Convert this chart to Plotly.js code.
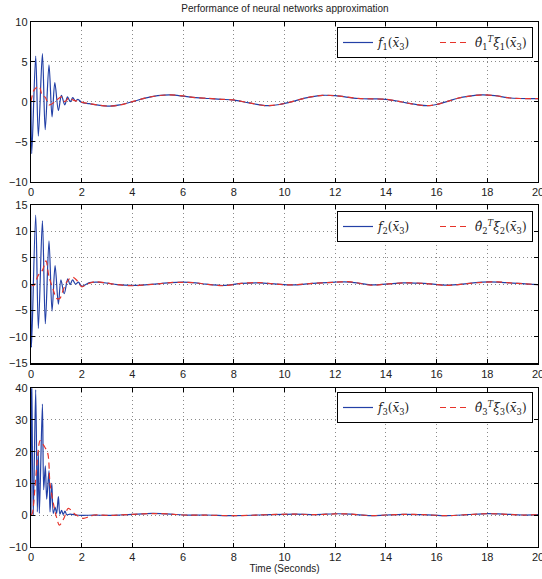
<!DOCTYPE html>
<html>
<head>
<meta charset="utf-8">
<script src="https://cdn.plot.ly/plotly-3.0.1.min.js"></script>
<style>
  html, body { margin: 0; padding: 0; background: #fff; }
  #chart { width: 542px; height: 579px; }
</style>
</head>
<body>
<div id="chart"></div>
<script>
// Panel 1: f1 and its neural-network estimate
const t1Blue = [0, 0.03, 0.185, 0.29, 0.45, 0.56, 0.71, 0.83, 0.94, 1.08, 1.2, 1.33, 1.44, 1.55, 1.65, 1.75, 1.85, 2.0, 2.3, 2.6, 3.1, 3.5, 4.0, 4.5, 5.0, 5.5, 6.0, 6.5, 7.0, 7.5, 8.0, 8.6, 9.3, 9.8, 10.3, 10.8, 11.5, 12.0, 12.9, 13.5, 14.0, 14.5, 14.8, 15.6, 16.0, 16.5, 16.8, 17.3, 17.8, 18.3, 18.8, 19.3, 20];
const f1Blue = [0, -6.5, 5.7, -4.3, 6.0, -3.5, 4.6, -1.9, 2.4, -1.1, 0.8, -0.4, 0.6, 0.0, 0.5, 0.1, 0.3, -0.1, -0.25, -0.4, -0.55, -0.4, 0.0, 0.45, 0.75, 0.85, 0.7, 0.5, 0.4, 0.3, 0.2, -0.15, -0.5, -0.35, 0.0, 0.45, 0.8, 0.75, 0.4, 0.35, 0.3, 0.05, -0.15, -0.5, -0.35, 0.1, 0.4, 0.7, 0.85, 0.75, 0.5, 0.4, 0.38];
const t1Red = [0, 0.13, 0.32, 0.45, 0.55, 0.72, 0.94, 1.2, 1.33, 1.5, 1.67, 2.0, 2.3, 2.6, 3.1, 3.5, 4.0, 4.5, 5.0, 5.5, 6.0, 6.5, 7.0, 7.5, 8.0, 8.6, 9.3, 9.8, 10.3, 10.8, 11.5, 12.0, 12.9, 13.5, 14.0, 14.5, 14.8, 15.6, 16.0, 16.5, 16.8, 17.3, 17.8, 18.3, 18.8, 19.3, 20];
const f1Red = [0, 1.5, 1.9, 0.7, 0.6, -0.4, 0.0, 0.6, 0.0, 0.5, 0.2, -0.05, -0.25, -0.4, -0.55, -0.42, 0.0, 0.45, 0.75, 0.85, 0.72, 0.5, 0.42, 0.3, 0.22, -0.15, -0.5, -0.35, 0.0, 0.45, 0.8, 0.75, 0.42, 0.35, 0.3, 0.05, -0.15, -0.5, -0.35, 0.1, 0.4, 0.7, 0.85, 0.75, 0.5, 0.4, 0.38];

// Panel 2: f2 and its estimate
const t2Blue = [0, 0.02, 0.185, 0.29, 0.45, 0.565, 0.71, 0.83, 0.95, 1.08, 1.18, 1.31, 1.45, 1.54, 1.64, 1.76, 1.87, 2.0, 2.3, 2.6, 3.0, 3.4, 4.0, 4.5, 5.1, 5.5, 6.0, 6.5, 6.9, 7.6, 8.3, 9.0, 9.7, 10.3, 11.1, 12.0, 12.6, 13.4, 14.0, 14.7, 15.5, 16.4, 17.2, 17.8, 18.4, 19.0, 19.4, 20];
const f2Blue = [0, -12, 13.1, -8.4, 12.0, -7.5, 8.2, -5.1, 3.5, -3.8, 0.8, -1.8, 1.0, -0.1, 0.8, 0.0, 0.4, -0.4, 0.3, 0.4, 0.2, -0.1, -0.25, -0.15, 0.1, 0.3, 0.4, 0.25, 0.0, -0.25, 0.15, 0.25, 0.0, -0.15, 0.15, 0.4, 0.4, -0.15, 0.0, 0.25, 0.15, -0.2, 0.1, 0.4, 0.4, 0.2, 0.1, -0.1];
const t2Red = [0, 0.1, 0.29, 0.46, 0.59, 0.71, 0.88, 1.01, 1.14, 1.27, 1.41, 1.54, 1.67, 1.83, 2.0, 2.2, 2.52, 3.0, 3.4, 4.0, 4.5, 5.1, 5.5, 6.0, 6.5, 6.9, 7.6, 8.3, 9.0, 9.7, 10.3, 11.1, 12.0, 12.6, 13.4, 14.0, 14.7, 15.5, 16.4, 17.2, 17.8, 18.4, 19.0, 19.4, 20];
const f2Red = [0, -0.3, 1.7, 2.7, 4.4, 1.4, -1.1, -2.7, -2.7, -1.1, 0.4, 1.1, 1.3, 0.6, -0.5, 0.0, 0.45, 0.2, -0.1, -0.3, -0.15, 0.1, 0.3, 0.35, 0.25, 0.0, -0.3, 0.15, 0.3, 0.0, -0.15, 0.15, 0.35, 0.45, -0.2, 0.0, 0.25, 0.15, -0.25, 0.1, 0.35, 0.45, 0.2, 0.1, -0.1];

// Panel 3: f3 and its estimate
const t3Blue = [0, 0.026, 0.09, 0.185, 0.25, 0.29, 0.33, 0.45, 0.5, 0.565, 0.62, 0.71, 0.75, 0.82, 0.88, 0.95, 1.01, 1.08, 1.14, 1.21, 1.27, 1.34, 1.41, 1.54, 1.8, 2.0, 2.5, 3.1, 3.5, 4.0, 4.8, 5.5, 6.0, 6.9, 8.0, 9.0, 10.4, 11.2, 12.0, 12.6, 13.4, 14.0, 14.7, 15.5, 16.4, 17.2, 18.0, 18.6, 19.4, 20];
const f3Blue = [0, 45, 0, 39.5, 1, 20, 0.5, 35, 8, 15.5, 5, 14, 1, 10, 0.5, 2.5, 0.5, 5.8, 0.3, 1.5, 0.2, 1.2, 0.1, 0.3, 0, -0.1, -0.05, -0.1, 0, 0.2, 0.5, 0.3, 0, 0, -0.2, 0, 0.3, 0.1, 0.4, 0.3, -0.2, 0, 0.2, 0.1, -0.2, 0.1, 0.45, 0.3, 0, 0.1];
const t3Red = [0, 0.05, 0.15, 0.28, 0.36, 0.5, 0.66, 0.75, 0.9, 1.0, 1.12, 1.3, 1.47, 1.7, 1.85, 2.07, 2.3, 2.5, 3.1, 3.5, 4.0, 4.8, 5.5, 6.0, 6.9, 8.0, 9.0, 10.4, 11.2, 12.0, 12.6, 13.4, 14.0, 14.7, 15.5, 16.4, 17.2, 18.0, 18.6, 19.4, 20];
const f3Red = [0, 0.5, 8, 20, 23.5, 22, 19.5, 10, 3, -0.5, -3.2, -1, 2.1, 0.5, -0.3, -1.05, -0.5, 0, -0.15, 0, 0.2, 0.45, 0.3, 0, -0.05, -0.2, 0, 0.3, 0.1, 0.35, 0.3, -0.2, 0, 0.2, 0.1, -0.2, 0.1, 0.4, 0.3, 0, 0.1];

// Tick values
const xTicks = [0, 2, 4, 6, 8, 10, 12, 14, 16, 18, 20];
const y1Ticks = [-10, -5, 0, 5, 10];
const y2Ticks = [-15, -10, -5, 0, 5, 10, 15];
const y3Ticks = [-10, 0, 10, 20, 30, 40];

// Legend labels
const blueNames = [
  '<i>f</i><sub>1</sub>(<i>x̄</i><sub>3</sub>)',
  '<i>f</i><sub>2</sub>(<i>x̄</i><sub>3</sub>)',
  '<i>f</i><sub>3</sub>(<i>x̄</i><sub>3</sub>)'
];
const redNames = [
  '<i>θ̂</i><sub>1</sub><sup><i>T</i></sup><i>ξ</i><sub>1</sub>(<i>x̄</i><sub>3</sub>)',
  '<i>θ̂</i><sub>2</sub><sup><i>T</i></sup><i>ξ</i><sub>2</sub>(<i>x̄</i><sub>3</sub>)',
  '<i>θ̂</i><sub>3</sub><sup><i>T</i></sup><i>ξ</i><sub>3</sub>(<i>x̄</i><sub>3</sub>)'
];

const BLUE = '#2340a6';
const RED = '#e6332a';
const W = 542, H = 579;

const series = [
  [t1Blue, f1Blue, t1Red, f1Red],
  [t2Blue, f2Blue, t2Red, f2Red],
  [t3Blue, f3Blue, t3Red, f3Red]
];

const traces = [];
series.forEach((s, i) => {
  const xa = i === 0 ? 'x' : 'x' + (i + 1);
  const ya = i === 0 ? 'y' : 'y' + (i + 1);
  const lg = i === 0 ? 'legend' : 'legend' + (i + 1);
  traces.push({
    x: s[0], y: s[1], xaxis: xa, yaxis: ya, legend: lg,
    type: 'scatter', mode: 'lines', name: blueNames[i],
    line: { color: BLUE, width: 1.2, shape: 'spline', smoothing: 0.9 }
  });
  traces.push({
    x: s[2], y: s[3], xaxis: xa, yaxis: ya, legend: lg,
    type: 'scatter', mode: 'lines', name: redNames[i],
    line: { color: RED, width: 1.2, dash: '6px,4px', shape: 'spline', smoothing: 0.9 }
  });
});

// pixel rows of each panel (top, bottom)
const panels = [[21.7, 181.7], [205, 363.3], [388.3, 546.7]];
const ranges = [[-10, 10], [-15, 15], [-10, 40]];
const yTicks = [y1Ticks, y2Ticks, y3Ticks];

const tickFont = { family: 'Liberation Sans, Arial, sans-serif', size: 11, color: '#222' };

function xAxis(anchor) {
  return {
    anchor: anchor, domain: [0, 1], range: [0, 20],
    tickvals: xTicks, ticktext: xTicks.map(String), ticklabeloverflow: 'allow',
    ticks: 'inside', ticklen: 4, tickcolor: '#000', tickwidth: 1,
    showline: true, linecolor: '#000', linewidth: 1.2, mirror: 'ticks',
    showgrid: true, gridcolor: '#8a8a8a', gridwidth: 1, griddash: '1px,3px',
    zeroline: false, tickfont: tickFont, automargin: false
  };
}
function yAxis(anchor, i) {
  const p = panels[i];
  return {
    anchor: anchor, domain: [1 - p[1] / H, 1 - p[0] / H], range: ranges[i],
    tickvals: yTicks[i], ticklabeloverflow: 'allow',
    ticks: 'inside', ticklen: 4, tickcolor: '#000', tickwidth: 1,
    showline: true, linecolor: '#000', linewidth: 1.2, mirror: 'ticks',
    showgrid: true, gridcolor: '#8a8a8a', gridwidth: 1, griddash: '1px,3px',
    zeroline: false, tickfont: tickFont, automargin: false
  };
}

function legendAt(topPx) {
  return {
    x: (533 - 31) / (W - 35), xanchor: 'right', xref: 'paper',
    y: 1 - topPx / H, yanchor: 'top', yref: 'paper',
    orientation: 'h', bgcolor: '#fff', bordercolor: '#000', borderwidth: 1,
    font: { family: 'DejaVu Serif, Liberation Serif, serif', size: 12, color: '#222' },
    itemwidth: 30, entrywidth: 52, tracegroupgap: 0
  };
}

const x3 = xAxis('y3');
x3.title = { text: 'Time (Seconds)', font: { family: 'Liberation Sans, Arial, sans-serif', size: 10, color: '#222' }, standoff: 2 };

const layout = {
  width: W, height: H,
  margin: { l: 31, r: 4, t: 0, b: 0 },
  paper_bgcolor: '#fff', plot_bgcolor: '#fff',
  showlegend: true,
  title: {
    text: 'Performance of neural networks approximation',
    font: { family: 'Liberation Sans, Arial, sans-serif', size: 10, color: '#222' },
    x: 285 / W, xref: 'container', xanchor: 'center',
    y: 1 - 8 / H, yref: 'container', yanchor: 'middle'
  },
  xaxis: xAxis('y'), yaxis: yAxis('x', 0),
  xaxis2: xAxis('y2'), yaxis2: yAxis('x2', 1),
  xaxis3: x3, yaxis3: yAxis('x3', 2),
  legend: legendAt(27),
  legend2: legendAt(211),
  legend3: legendAt(392)
};

Plotly.newPlot('chart', traces, layout, { staticPlot: true, displayModeBar: false });
</script>
</body>
</html>
